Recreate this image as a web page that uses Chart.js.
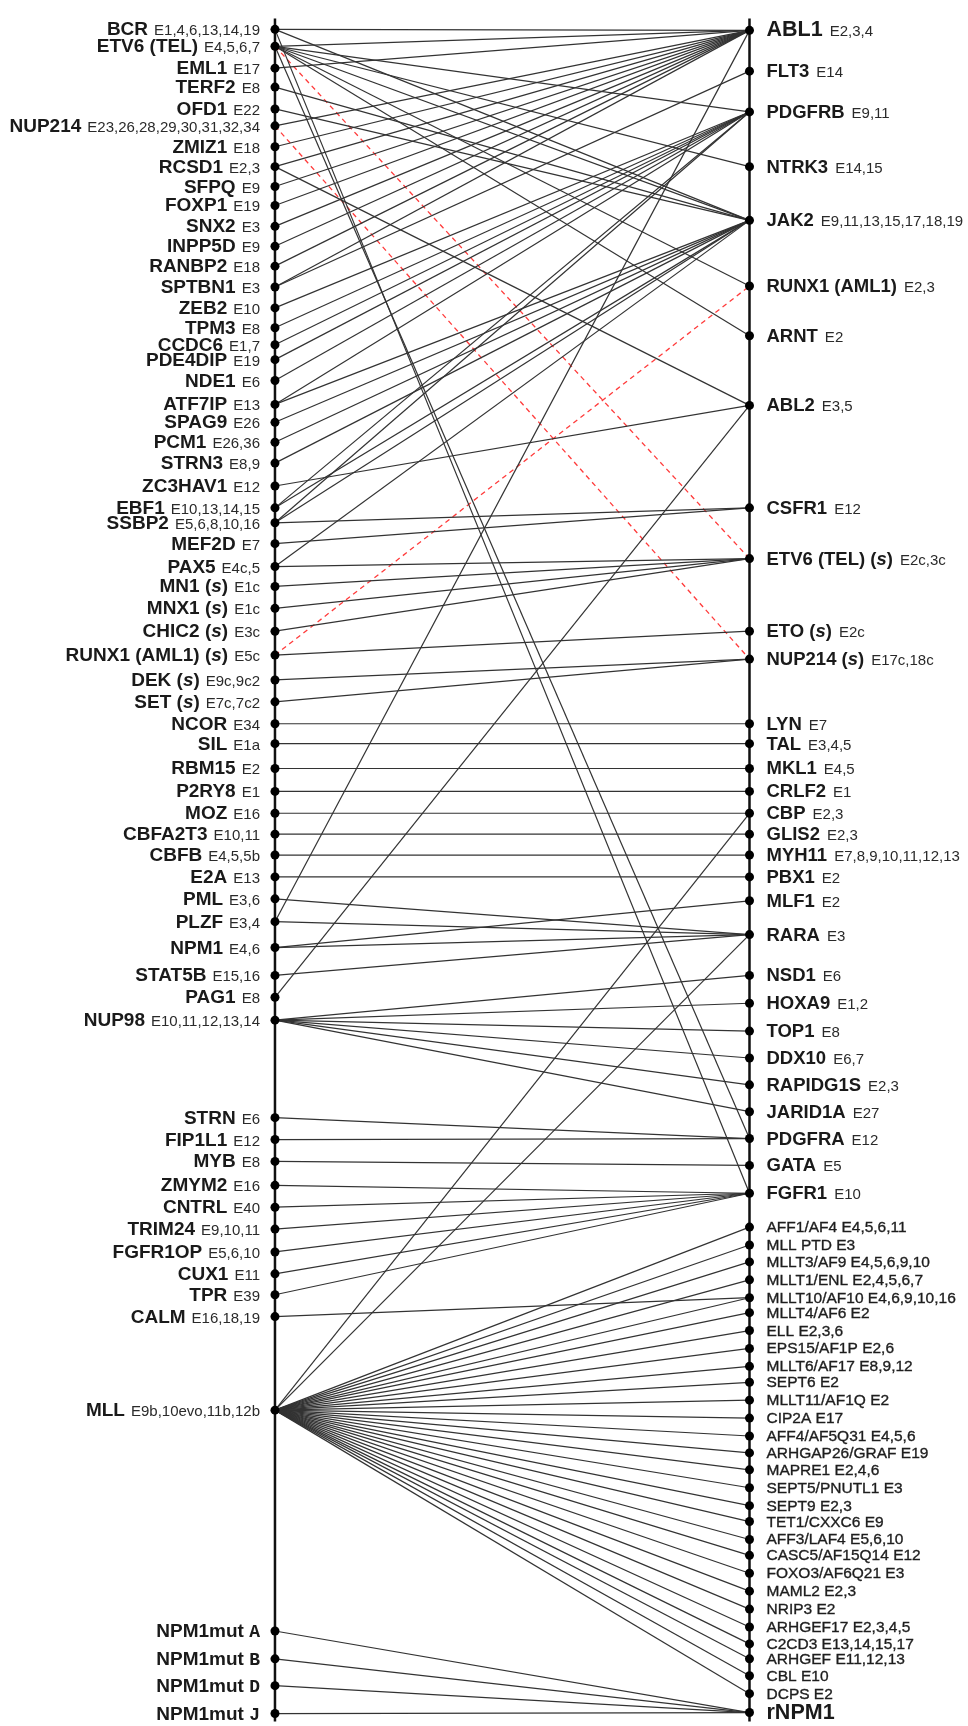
<!DOCTYPE html>
<html>
<head>
<meta charset="utf-8">
<script src="https://cdn.jsdelivr.net/npm/chart.js@4.4.1/dist/chart.umd.min.js"></script>
<style>
    html, body { margin: 0; padding: 0; background: #fff; }
</style>
</head>
<body>
<canvas id="fusionChart" width="968" height="1726"></canvas>
<script>
// 5' partners (left axis): name, breakpoint exons, position along the axis
var leftGenes = ['BCR', 'ETV6 (TEL)', 'EML1', 'TERF2', 'OFD1', 'NUP214', 'ZMIZ1', 'RCSD1', 'SFPQ', 'FOXP1',
    'SNX2', 'INPP5D', 'RANBP2', 'SPTBN1', 'ZEB2', 'TPM3', 'CCDC6', 'PDE4DIP', 'NDE1', 'ATF7IP',
    'SPAG9', 'PCM1', 'STRN3', 'ZC3HAV1', 'EBF1', 'SSBP2', 'MEF2D', 'PAX5', 'MN1 (s)', 'MNX1 (s)',
    'CHIC2 (s)', 'RUNX1 (AML1) (s)', 'DEK (s)', 'SET (s)', 'NCOR', 'SIL', 'RBM15', 'P2RY8', 'MOZ', 'CBFA2T3',
    'CBFB', 'E2A', 'PML', 'PLZF', 'NPM1', 'STAT5B', 'PAG1', 'NUP98', 'STRN', 'FIP1L1',
    'MYB', 'ZMYM2', 'CNTRL', 'TRIM24', 'FGFR1OP', 'CUX1', 'TPR', 'CALM', 'MLL',
    'NPM1mut A', 'NPM1mut B', 'NPM1mut D', 'NPM1mut J'];
var leftExons = ['E1,4,6,13,14,19', 'E4,5,6,7', 'E17', 'E8', 'E22', 'E23,26,28,29,30,31,32,34', 'E18', 'E2,3', 'E9', 'E19',
    'E3', 'E9', 'E18', 'E3', 'E10', 'E8', 'E1,7', 'E19', 'E6', 'E13',
    'E26', 'E26,36', 'E8,9', 'E12', 'E10,13,14,15', 'E5,6,8,10,16', 'E7', 'E4c,5', 'E1c', 'E1c',
    'E3c', 'E5c', 'E9c,9c2', 'E7c,7c2', 'E34', 'E1a', 'E2', 'E1', 'E16', 'E10,11',
    'E4,5,5b', 'E13', 'E3,6', 'E3,4', 'E4,6', 'E15,16', 'E8', 'E10,11,12,13,14', 'E6', 'E12',
    'E8', 'E16', 'E40', 'E9,10,11', 'E5,6,10', 'E11', 'E39', 'E16,18,19', 'E9b,10evo,11b,12b',
    '', '', '', ''];
var leftPos = [25, 42, 64, 83, 105, 122, 143, 163, 183, 202,
    223, 243, 263, 284, 305, 325, 342, 357, 378, 402,
    420, 440, 461, 484, 506, 521, 542, 565, 585, 607,
    630, 654, 679, 701, 723, 743, 768, 791, 813, 834,
    855, 877, 899, 922, 948, 976, 998, 1021, 1119, 1141,
    1163, 1187, 1209, 1231, 1254, 1276, 1297, 1319, 1413,
    1635, 1663, 1690, 1718];

// 3' partners (right axis)
var rightGenes = ['ABL1', 'FLT3', 'PDGFRB', 'NTRK3', 'JAK2', 'RUNX1 (AML1)', 'ARNT', 'ABL2', 'CSFR1', 'ETV6 (TEL) (s)',
    'ETO (s)', 'NUP214 (s)', 'LYN', 'TAL', 'MKL1', 'CRLF2', 'CBP', 'GLIS2', 'MYH11', 'PBX1',
    'MLF1', 'RARA', 'NSD1', 'HOXA9', 'TOP1', 'DDX10', 'RAPIDG1S', 'JARID1A', 'PDGFRA', 'GATA',
    'FGFR1', 'rNPM1'];
var rightExons = ['E2,3,4', 'E14', 'E9,11', 'E14,15', 'E9,11,13,15,17,18,19', 'E2,3', 'E2', 'E3,5', 'E12', 'E2c,3c',
    'E2c', 'E17c,18c', 'E7', 'E3,4,5', 'E4,5', 'E1', 'E2,3', 'E2,3', 'E7,8,9,10,11,12,13', 'E2',
    'E2', 'E3', 'E6', 'E1,2', 'E8', 'E6,7', 'E2,3', 'E27', 'E12', 'E5',
    'E10', ''];
var rightPos = [26, 67, 108, 163, 217, 283, 333, 403, 506, 557,
    630, 658, 723, 743, 768, 791, 813, 834, 855, 877,
    901, 935, 976, 1004, 1032, 1059, 1086, 1113, 1140, 1167,
    1195, 1717];

// MLL partners (right axis, small labels)
var mllPartners = ['AFF1/AF4', 'MLL PTD', 'MLLT3/AF9', 'MLLT1/ENL', 'MLLT10/AF10', 'MLLT4/AF6', 'ELL', 'EPS15/AF1P',
    'MLLT6/AF17', 'SEPT6', 'MLLT11/AF1Q', 'CIP2A', 'AFF4/AF5Q31', 'ARHGAP26/GRAF', 'MAPRE1', 'SEPT5/PNUTL1',
    'SEPT9', 'TET1/CXXC6', 'AFF3/LAF4', 'CASC5/AF15Q14', 'FOXO3/AF6Q21', 'MAML2', 'NRIP3', 'ARHGEF17',
    'C2CD3', 'ARHGEF', 'CBL', 'DCPS'];
var mllExons = ['E4,5,6,11', 'E3', 'E4,5,6,9,10', 'E2,4,5,6,7', 'E4,6,9,10,16', 'E2', 'E2,3,6', 'E2,6',
    'E8,9,12', 'E2', 'E2', 'E17', 'E4,5,6', 'E19', 'E2,4,6', 'E3',
    'E2,3', 'E9', 'E5,6,10', 'E12', 'E3', 'E2,3', 'E2', 'E2,3,4,5',
    'E13,14,15,17', 'E11,12,13', 'E10', 'E2'];
var mllPos = [1229, 1247, 1264, 1282, 1300, 1315, 1333, 1351,
    1369, 1385, 1403, 1421, 1439, 1456, 1473, 1491,
    1509, 1525, 1543, 1559, 1577, 1595, 1613, 1631,
    1648, 1663, 1680, 1698];

// fusions: [5' partner, 3' partner]
var links = [
    ['BCR', 'ABL1'], ['BCR', 'JAK2'], ['BCR', 'FGFR1'],
    ['ETV6 (TEL)', 'ABL1'], ['ETV6 (TEL)', 'PDGFRB'], ['ETV6 (TEL)', 'NTRK3'], ['ETV6 (TEL)', 'JAK2'],
    ['ETV6 (TEL)', 'RUNX1 (AML1)'], ['ETV6 (TEL)', 'ARNT'], ['ETV6 (TEL)', 'PDGFRA'],
    ['EML1', 'ABL1'], ['TERF2', 'JAK2'], ['OFD1', 'JAK2'], ['NUP214', 'ABL1'], ['ZMIZ1', 'ABL1'],
    ['RCSD1', 'ABL1'], ['RCSD1', 'ABL2'], ['SFPQ', 'ABL1'], ['FOXP1', 'ABL1'], ['SNX2', 'ABL1'],
    ['INPP5D', 'ABL1'], ['RANBP2', 'ABL1'], ['SPTBN1', 'ABL1'], ['SPTBN1', 'FLT3'],
    ['ZEB2', 'PDGFRB'], ['TPM3', 'PDGFRB'], ['CCDC6', 'PDGFRB'], ['PDE4DIP', 'PDGFRB'], ['NDE1', 'PDGFRB'],
    ['ATF7IP', 'PDGFRB'], ['ATF7IP', 'JAK2'], ['SPAG9', 'JAK2'], ['PCM1', 'JAK2'], ['STRN3', 'JAK2'],
    ['ZC3HAV1', 'ABL2'], ['EBF1', 'PDGFRB'], ['EBF1', 'JAK2'], ['SSBP2', 'PDGFRB'], ['SSBP2', 'JAK2'],
    ['SSBP2', 'CSFR1'], ['MEF2D', 'CSFR1'], ['PAX5', 'JAK2'], ['PAX5', 'ETV6 (TEL) (s)'],
    ['MN1 (s)', 'ETV6 (TEL) (s)'], ['MNX1 (s)', 'ETV6 (TEL) (s)'], ['CHIC2 (s)', 'ETV6 (TEL) (s)'],
    ['RUNX1 (AML1) (s)', 'ETO (s)'], ['DEK (s)', 'NUP214 (s)'], ['SET (s)', 'NUP214 (s)'],
    ['NCOR', 'LYN'], ['SIL', 'TAL'], ['RBM15', 'MKL1'], ['P2RY8', 'CRLF2'], ['MOZ', 'CBP'],
    ['CBFA2T3', 'GLIS2'], ['CBFB', 'MYH11'], ['E2A', 'PBX1'],
    ['PML', 'RARA'], ['PLZF', 'RARA'], ['PLZF', 'ABL1'], ['NPM1', 'RARA'], ['NPM1', 'MLF1'],
    ['STAT5B', 'RARA'], ['PAG1', 'ABL2'],
    ['NUP98', 'NSD1'], ['NUP98', 'HOXA9'], ['NUP98', 'TOP1'], ['NUP98', 'DDX10'], ['NUP98', 'RAPIDG1S'],
    ['NUP98', 'JARID1A'],
    ['STRN', 'PDGFRA'], ['FIP1L1', 'PDGFRA'], ['MYB', 'GATA'],
    ['ZMYM2', 'FGFR1'], ['CNTRL', 'FGFR1'], ['TRIM24', 'FGFR1'], ['FGFR1OP', 'FGFR1'], ['CUX1', 'FGFR1'],
    ['TPR', 'FGFR1'], ['CALM', 'MLLT10/AF10'],
    ['MLL', 'CBP'], ['MLL', 'RARA'],
    ['NPM1mut A', 'rNPM1'], ['NPM1mut B', 'rNPM1'], ['NPM1mut D', 'rNPM1'], ['NPM1mut J', 'rNPM1']
];
// every MLL partner is joined to MLL
mllPartners.forEach(function (g) { links.push(['MLL', g]); });

// secondary (s) events, red dashed
var dashedLinks = [['ETV6 (TEL)', 'ETV6 (TEL) (s)'], ['NUP214', 'NUP214 (s)'], ['RUNX1 (AML1) (s)', 'RUNX1 (AML1)']];

var leftY = {}, rightY = {};
leftGenes.forEach(function (g, i) { leftY[g] = leftPos[i]; });
rightGenes.forEach(function (g, i) { rightY[g] = rightPos[i]; });
mllPartners.forEach(function (g, i) { rightY[g] = mllPos[i]; });

var SANS = '"Liberation Sans", Arial, sans-serif';

function nameParts(name, size) {
    var bold = 'bold ' + size + 'px ' + SANS;
    var m = name.match(/^NPM1mut (\w)$/);
    if (m) {
        return [{ t: 'NPM1mut ', f: bold }, { t: m[1], f: 'bold ' + (size - 1) + 'px "Liberation Mono", "Courier New", monospace' }];
    }
    var i = name.indexOf('(s)');
    if (i >= 0) {
        return [{ t: name.slice(0, i + 1), f: bold }, { t: 's', f: 'italic ' + bold }, { t: name.slice(i + 2), f: bold }];
    }
    return [{ t: name, f: bold }];
}

function drawParts(ctx, parts, x, y) {
    parts.forEach(function (p) {
        ctx.font = p.f;
        ctx.fillText(p.t, x, y);
        x += ctx.measureText(p.t).width;
    });
    return x;
}

function partsWidth(ctx, parts) {
    var w = 0;
    parts.forEach(function (p) { ctx.font = p.f; w += ctx.measureText(p.t).width; });
    return w;
}

var labelPlugin = {
    id: 'labels',
    afterDatasetsDraw: function (chart) {
        var ctx = chart.ctx;
        var xs = chart.scales.x, ys = chart.scales.y;
        var xl = xs.getPixelForValue(0), xr = xs.getPixelForValue(1);
        ctx.save();
        ctx.textAlign = 'left';
        ctx.textBaseline = 'alphabetic';
        ctx.fillStyle = '#1a1a1a';

        // left labels, right aligned against the axis
        leftGenes.forEach(function (g, i) {
            var y = ys.getPixelForValue(leftPos[i]) + 6;
            var parts = nameParts(g, 19);
            var exFont = '15px ' + SANS;
            ctx.font = exFont;
            var exW = leftExons[i] ? ctx.measureText(leftExons[i]).width + 6 : 0;
            var x0 = xl - 15 - exW - partsWidth(ctx, parts);
            var x1 = drawParts(ctx, parts, x0, y);
            if (leftExons[i]) {
                ctx.font = exFont;
                ctx.fillStyle = '#2a2a2a';
                ctx.fillText(leftExons[i], x1 + 6, y);
                ctx.fillStyle = '#1a1a1a';
            }
        });

        // right labels
        rightGenes.forEach(function (g, i) {
            var y = ys.getPixelForValue(rightPos[i]) + 6;
            var size = (g === 'ABL1' || g === 'rNPM1') ? 21.5 : 18.5;
            var x1 = drawParts(ctx, nameParts(g, size), xr + 17, y);
            if (rightExons[i]) {
                ctx.font = '15px ' + SANS;
                ctx.fillStyle = '#2a2a2a';
                ctx.fillText(rightExons[i], x1 + 7, y);
                ctx.fillStyle = '#1a1a1a';
            }
        });

        ctx.font = '15.5px ' + SANS;
        ctx.fillStyle = '#1e1e1e';
        ctx.strokeStyle = '#1e1e1e';
        ctx.lineWidth = 0.35;
        mllPartners.forEach(function (g, i) {
            var y = ys.getPixelForValue(mllPos[i]) + 5;
            var s = g + ' ' + mllExons[i];
            ctx.fillText(s, xr + 17, y);
            ctx.strokeText(s, xr + 17, y);
        });
        ctx.restore();
    }
};

var datasets = [];

// the two vertical axes
datasets.push({ data: [{ x: 0, y: 14 }, { x: 0, y: 1726 }], showLine: true, borderColor: '#111', borderWidth: 2.5, pointRadius: 0, order: 3 });
datasets.push({ data: [{ x: 1, y: 14 }, { x: 1, y: 1726 }], showLine: true, borderColor: '#111', borderWidth: 2.5, pointRadius: 0, order: 3 });

links.forEach(function (l) {
    datasets.push({
        data: [{ x: 0, y: leftY[l[0]] }, { x: 1, y: rightY[l[1]] }],
        showLine: true, borderColor: '#333', borderWidth: 1.2, pointRadius: 0, order: 2
    });
});

dashedLinks.forEach(function (l) {
    datasets.push({
        data: [{ x: 0, y: leftY[l[0]] }, { x: 1, y: rightY[l[1]] }],
        showLine: true, borderColor: '#ff3b3b', borderWidth: 1.3, borderDash: [5, 4], pointRadius: 0, order: 2
    });
});

// nodes
datasets.push({
    data: leftPos.map(function (p) { return { x: 0, y: p }; }),
    pointRadius: 4.5, pointBackgroundColor: '#000', pointBorderWidth: 0, order: 1
});
datasets.push({
    data: rightPos.concat(mllPos).map(function (p) { return { x: 1, y: p }; }),
    pointRadius: 4.5, pointBackgroundColor: '#000', pointBorderWidth: 0, order: 1
});

datasets.forEach(function (d) { d.clip = false; });

new Chart(document.getElementById('fusionChart').getContext('2d'), {
    type: 'scatter',
    data: { datasets: datasets },
    options: {
        responsive: false,
        animation: false,
        devicePixelRatio: 1,
        layout: { padding: 0 },
        plugins: { legend: { display: false }, tooltip: { enabled: false } },
        scales: {
            x: { type: 'linear', min: -0.570, max: 1.451, display: false },
            y: { type: 'linear', min: 0, max: 1726, reverse: true, display: false }
        }
    },
    plugins: [labelPlugin]
});
</script>
</body>
</html>
